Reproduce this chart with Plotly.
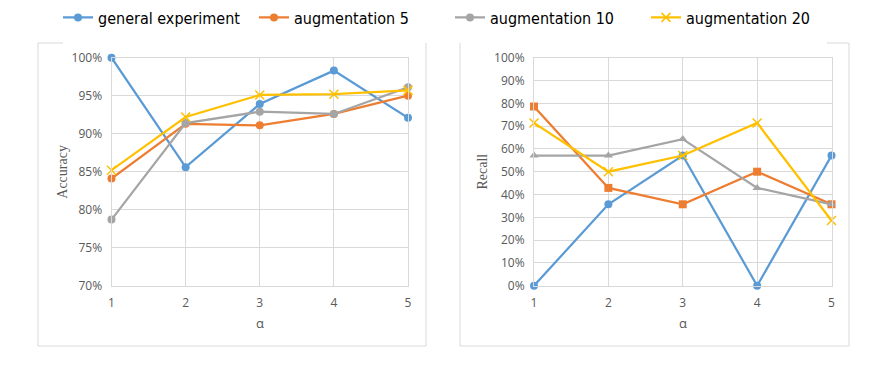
import plotly.graph_objects as go

alpha = [1, 2, 3, 4, 5]
series_names = ["general experiment", "augmentation 5", "augmentation 10", "augmentation 20"]

# Accuracy (%)
acc_general = [100.0, 85.6, 93.9, 98.3, 92.1]
acc_aug5 = [84.1, 91.3, 91.1, 92.6, 95.0]
acc_aug10 = [78.7, 91.4, 92.9, 92.6, 96.1]
acc_aug20 = [85.2, 92.2, 95.1, 95.2, 95.7]

# Recall (%)
rec_general = [0.0, 35.7, 57.1, 0.0, 57.1]
rec_aug5 = [78.6, 42.9, 35.7, 50.0, 35.7]
rec_aug10 = [57.1, 57.1, 64.3, 42.9, 35.7]
rec_aug20 = [71.4, 50.0, 57.1, 71.4, 28.6]

acc_ticks = [70, 75, 80, 85, 90, 95, 100]
rec_ticks = [0, 10, 20, 30, 40, 50, 60, 70, 80, 90, 100]

colors = ["#5b9bd5", "#ed7d31", "#a5a5a5", "#ffc000"]
acc_symbols = ["circle", "circle", "circle", "x-thin"]
rec_symbols = ["circle", "square", "triangle-up", "x-thin"]

# page has an 8px body margin: size the figure so it fits the 881x374 window
OFF = 8
FW, FH = 881 - 2 * OFF, 374 - 2 * OFF


def px_x(s):
    return (s - OFF) / FW


def px_y(s):
    return 1 - (s - OFF) / FH


fig = go.Figure()

acc_data = [acc_general, acc_aug5, acc_aug10, acc_aug20]
rec_data = [rec_general, rec_aug5, rec_aug10, rec_aug20]


def marker(i, symbols):
    sym = symbols[i]
    return dict(color=colors[i], size=9 if sym == "x-thin" else 8, symbol=sym,
                line=dict(color=colors[i], width=1.5 if sym == "x-thin" else 0))


for i, (name, ys) in enumerate(zip(series_names, acc_data)):
    fig.add_trace(go.Scatter(
        x=alpha, y=ys, name=name, mode="lines+markers",
        line=dict(color=colors[i], width=2.25),
        marker=marker(i, acc_symbols), cliponaxis=False,
        xaxis="x", yaxis="y", showlegend=True, legendgroup=name,
    ))

for i, (name, ys) in enumerate(zip(series_names, rec_data)):
    fig.add_trace(go.Scatter(
        x=alpha, y=ys, name=name, mode="lines+markers",
        line=dict(color=colors[i], width=2.25),
        marker=marker(i, rec_symbols), cliponaxis=False,
        xaxis="x2", yaxis="y2", showlegend=False, legendgroup=name,
    ))

sans = "Segoe UI, Open Sans, DejaVu Sans, sans-serif"
tick_font = dict(family=sans, size=12, color="#595959")
title_font = dict(family="Liberation Serif, DejaVu Serif, serif", size=14, color="#595959")

common_x = dict(
    tickmode="array", tickvals=alpha, ticktext=[str(a) for a in alpha],
    showgrid=True, gridcolor="#d9d9d9", gridwidth=1,
    showline=True, linecolor="#d9d9d9", mirror=True,
    zeroline=False, ticks="", tickfont=tick_font, ticklabelstandoff=6,
    range=[1, 5], fixedrange=True, automargin=False,
)
common_y = dict(
    tickmode="array",
    showgrid=True, gridcolor="#d9d9d9", gridwidth=1,
    showline=True, linecolor="#d9d9d9", mirror=True,
    zeroline=False, ticks="", tickfont=tick_font, ticklabelstandoff=6,
    automargin=False,
)

ydom = [px_y(285.7), px_y(57.7)]

fig.update_layout(
    width=FW, height=FH,
    margin=dict(l=0, r=0, t=0, b=0, autoexpand=False),
    paper_bgcolor="white", plot_bgcolor="white",
    xaxis=dict(domain=[px_x(111.5), px_x(408)], anchor="y", **common_x),
    yaxis=dict(domain=ydom, anchor="x", range=[70, 100],
               tickvals=acc_ticks, ticktext=[f"{v}%" for v in acc_ticks], **common_y),
    xaxis2=dict(domain=[px_x(534), px_x(831.5)], anchor="y2", **common_x),
    yaxis2=dict(domain=ydom, anchor="x2", range=[0, 100],
                tickvals=rec_ticks, ticktext=[f"{v}%" for v in rec_ticks], **common_y),
    legend=dict(
        orientation="h", x=px_x(58), y=px_y(17.5), xanchor="left", yanchor="middle",
        font=dict(family="Liberation Sans Narrow, DejaVu Sans Condensed, sans-serif", size=16, color="#000000"),
        entrywidth=151, entrywidthmode="pixels",
        itemwidth=30, bgcolor="rgba(0,0,0,0)", tracegroupgap=0,
    ),
    showlegend=True,
)

# axis titles
fig.add_annotation(text="Accuracy", x=px_x(63), y=px_y(171.7), xref="paper", yref="paper",
                   textangle=-90, showarrow=False, font=title_font, xanchor="center", yanchor="middle")
fig.add_annotation(text="Recall", x=px_x(482), y=px_y(171.5), xref="paper", yref="paper",
                   textangle=-90, showarrow=False, font=title_font, xanchor="center", yanchor="middle")
for xc in (260, 683):
    fig.add_annotation(text="α", x=px_x(xc), y=px_y(323), xref="paper", yref="paper",
                       showarrow=False, font=dict(family=sans, size=13, color="#595959"),
                       xanchor="center", yanchor="middle")

border = dict(type="line", xref="paper", yref="paper", line=dict(color="#d9d9d9", width=1))
boxes = [(38, 426, 43, 346, "left"), (460, 849, 43, 346, "right")]
for x0, x1, y0, y1, side in boxes:
    fig.add_shape(x0=px_x(x0), x1=px_x(x0), y0=px_y(y0), y1=px_y(y1), **border)
    fig.add_shape(x0=px_x(x1), x1=px_x(x1), y0=px_y(y0), y1=px_y(y1), **border)
    fig.add_shape(x0=px_x(x0), x1=px_x(x1), y0=px_y(y1), y1=px_y(y1), **border)
    if side == "left":
        fig.add_shape(x0=px_x(x0), x1=px_x(63), y0=px_y(y0), y1=px_y(y0), **border)
    else:
        fig.add_shape(x0=px_x(827), x1=px_x(x1), y0=px_y(y0), y1=px_y(y0), **border)

fig.write_html("out.html")
